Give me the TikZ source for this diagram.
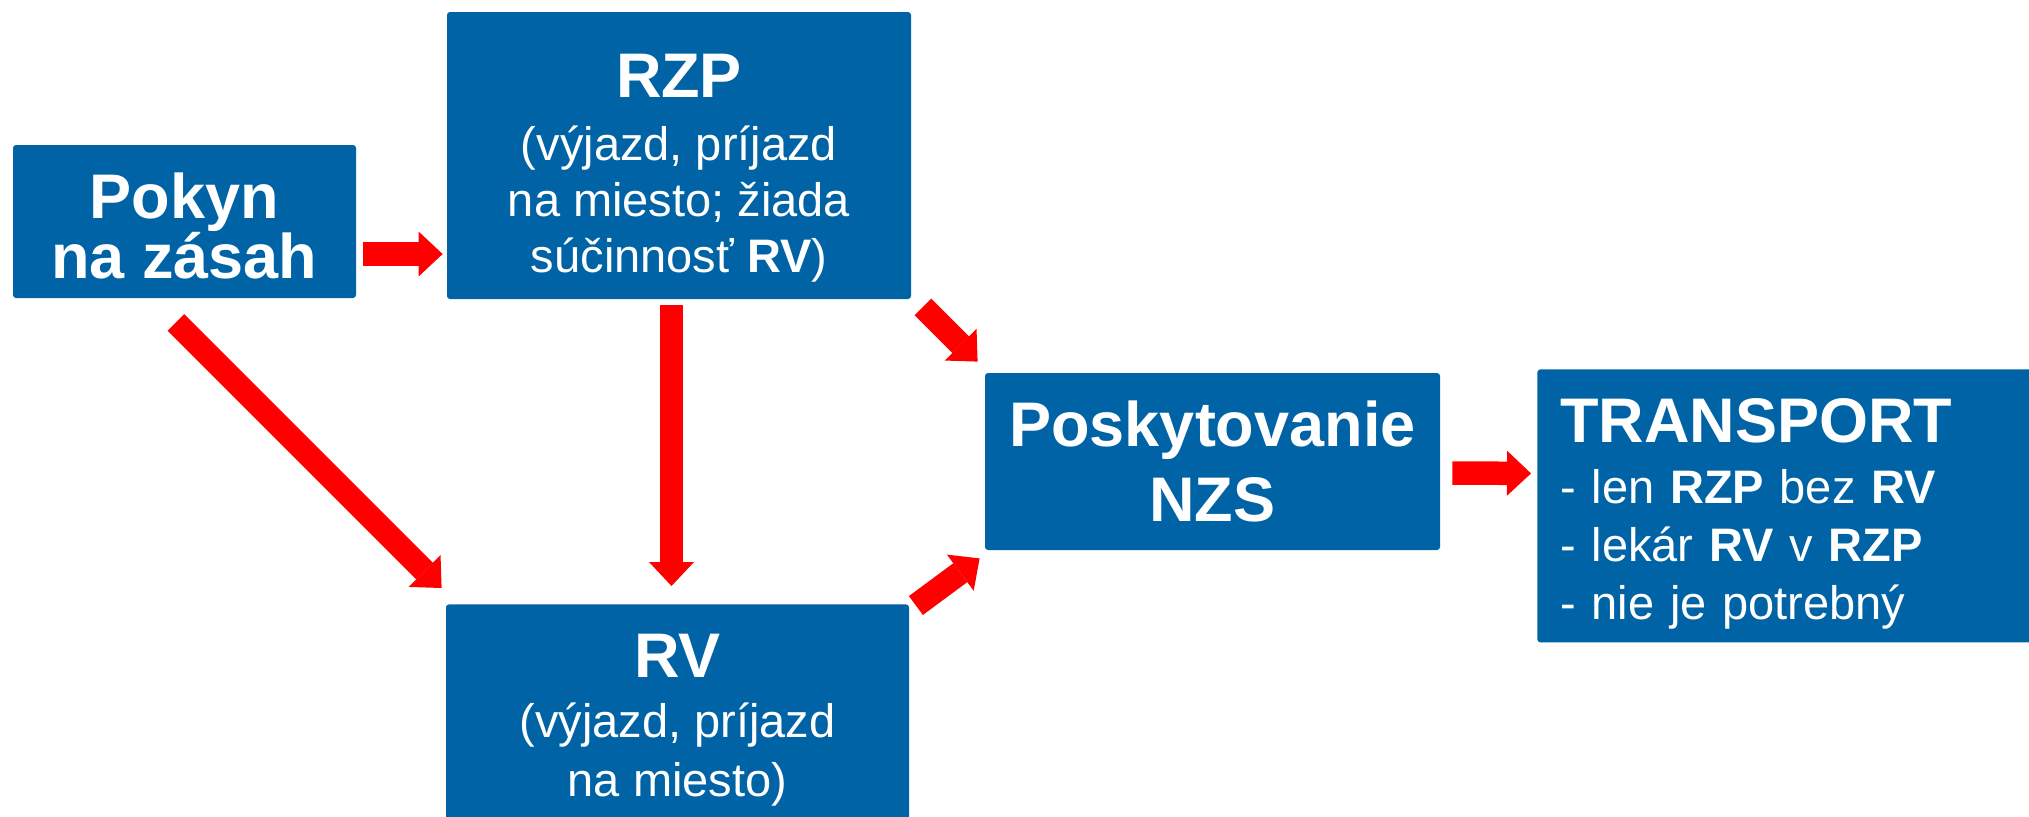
\documentclass[tikz,border=0pt]{standalone}
\usepackage{fontspec}
\setmainfont{Liberation Sans}
\usetikzlibrary{arrows.meta}
\usetikzlibrary{calc}

\definecolor{boxblue}{RGB}{0,99,166}
\definecolor{arrowred}{RGB}{255,0,0}

\newcommand\hdfont{\fontsize{31.5pt}{30pt}\selectfont\bfseries\lineskiplimit=-30pt}
\newcommand\lnfont[1]{\fontsize{23.5pt}{#1}\selectfont\lineskiplimit=-30pt}

\tikzset{
  box/.style={fill=boxblue, rounded corners=1.5pt, text=white, align=center, inner sep=0pt},
  bigarrow/.style={draw=arrowred, line width=11.75pt,
    -{Triangle[length=12pt, width=22.5pt, line width=0pt]}}
}

\begin{document}
\begin{tikzpicture}[x=0.5pt, y=-0.5pt]

\fill[white] (0,0) rectangle (2029,816);
\useasboundingbox (0,0) rectangle (2029,816);

% boxes
\node[box, minimum width=171.5pt, minimum height=76.5pt, font=\hdfont]
    (pokyn) at (184.5,221.5) {\rule{0pt}{27.5pt}Pokyn\\na zásah};
\node[box, minimum width=232pt, minimum height=143.5pt, font=\lnfont{28pt}]
    (rzp) at (679,155.5)
    {{\hdfont\rule{0pt}{34pt}RZP}\\[3.5pt](výjazd, príjazd\\na miesto; žiada\\súčinnosť {\bfseries RV})};
\node[box, anchor=north, minimum width=231.5pt, minimum height=116pt, font=\lnfont{29.5pt}]
    (rv) at (677.5,604) {{\hdfont RV}\\[0.5pt](výjazd, príjazd\\na miesto)};
\node[box, minimum width=227.5pt, minimum height=88.5pt, font=\hdfont]
    (posk) at (1212.5,461.5) {Poskytovanie\\[7.5pt]NZS};
\node[box, anchor=north west, align=left, text width=238.5pt, inner xsep=11.5pt,
    minimum height=136.5pt, font=\lnfont{29pt}]
    (trans) at (1537,369)
    {{\hdfont\rule{0pt}{30pt}TRANSPORT}\\[1.5pt]- len {\bfseries RZP} bez {\bfseries RV}\\- lekár {\bfseries RV} v {\bfseries RZP}\\- nie je potrebný};

% arrows
\draw[bigarrow] ([shift={(7,32.5)}]pokyn.east) -- ([shift={(-4,98.5)}]rzp.west);
\draw[bigarrow] ([shift={(-7.5,6)}]rzp.south) -- ([shift={(-6,-18)}]rv.north);
\draw[bigarrow] ([shift={(-8.5,24)}]pokyn.south) -- ([shift={(-4,-16)}]rv.north west);
\draw[bigarrow] ([shift={(11.5,7.5)}]rzp.south east) -- ([shift={(-7,-11)}]posk.north west);
\draw[bigarrow] ([shift={(6.5,1.5)}]rv.north east) -- ([shift={(-5,8)}]posk.south west);
\draw[bigarrow] ([shift={(12,11.5)}]posk.east) -- ([shift={(-6,-32.5)}]trans.west);

\end{tikzpicture}
\end{document}
